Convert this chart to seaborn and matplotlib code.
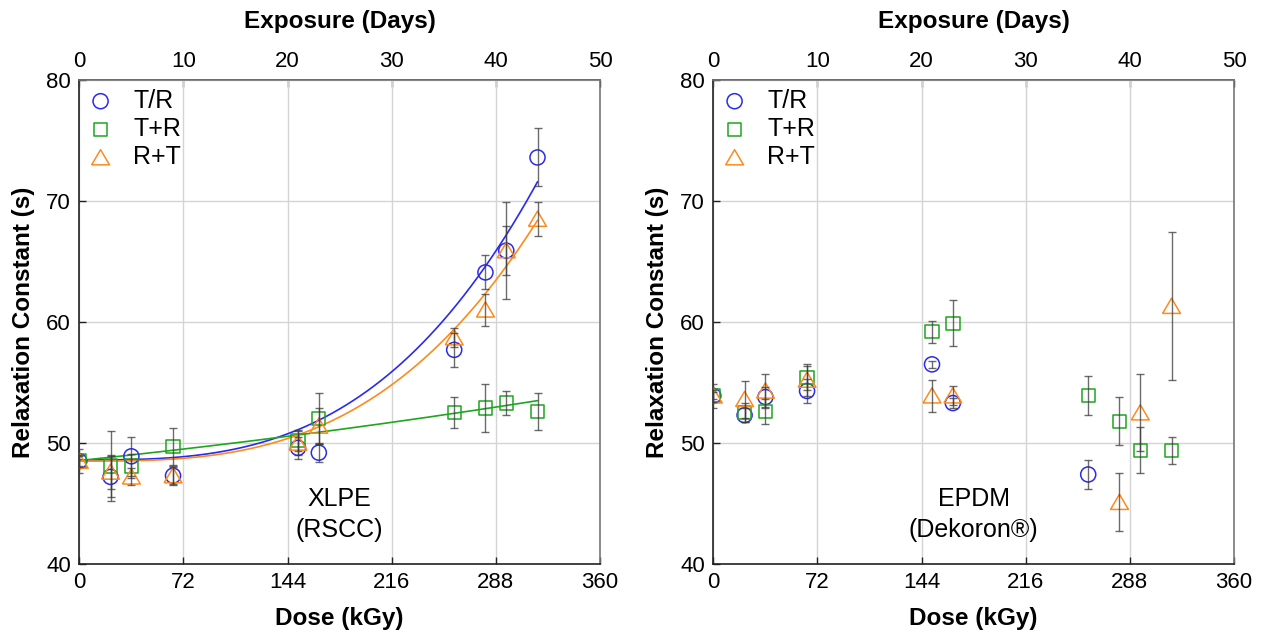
import numpy as np
import matplotlib
matplotlib.use("Agg")
import matplotlib.pyplot as plt
import seaborn as sns

# -------------------------
# Data
# -------------------------
dose = [0, 21.6, 36, 64.8, 151.2, 165.6, 259.2, 280.8, 295.2, 316.8]
day_ticks = [0, 10, 20, 30, 40, 50]
dose_ticks = [0, 72, 144, 216, 288, 360]
kgy_per_day = 7.2

# XLPE (RSCC)
xlpe_tr = [48.5, 47.2, 48.9, 47.3, 49.6, 49.2, 57.7, 64.1, 65.9, 73.6]
xlpe_tr_err = [0.4, 1.7, 1.6, 0.8, 0.9, 0.8, 1.4, 1.4, 4.0, 2.4]
xlpe_tpr = [48.5, 48.1, 48.1, 49.7, 50.2, 52.0, 52.5, 52.9, 53.3, 52.6]
xlpe_tpr_err = [0.5, 2.9, 1.0, 1.5, 0.9, 2.1, 1.3, 2.0, 1.0, 1.5]
xlpe_rpt = [48.5, 47.6, 47.2, 47.3, 50.0, 51.4, 58.7, 61.0, 65.9, 68.5]
xlpe_rpt_err = [1.0, 1.4, 0.7, 0.7, 1.0, 1.5, 0.8, 1.3, 2.0, 1.4]

# fitted trend lines for XLPE, polynomial coefficients (c0, c1, c2, c3) in dose
fit_tr = [48.6, 0.0, 0.0, 7.23e-7]
fit_tpr = [48.55, 0.01248, 9.93e-6, 0.0]
fit_rpt = [48.5, 0.0, 0.0, 6.26e-7]
fit_range = (0, 316.8)

# EPDM (Dekoron)
epdm_tr_dose = [0, 21.6, 36, 64.8, 151.2, 165.6, 259.2]
epdm_tr = [53.9, 52.3, 53.8, 54.3, 56.5, 53.3, 47.4]
epdm_tr_err = [0.3, 0.6, 0.8, 1.0, 0.3, 0.4, 1.2]
epdm_tpr_dose = dose
epdm_tpr = [53.9, 52.5, 52.6, 55.4, 59.2, 59.9, 53.9, 51.8, 49.4, 49.4]
epdm_tpr_err = [0.5, 0.8, 1.0, 1.0, 0.9, 1.9, 1.6, 2.0, 1.9, 1.1]
epdm_rpt_dose = [0, 21.6, 36, 64.8, 151.2, 165.6, 280.8, 295.2, 316.8]
epdm_rpt = [53.9, 53.6, 54.3, 55.2, 53.9, 53.9, 45.1, 52.5, 61.3]
epdm_rpt_err = [1.0, 1.5, 1.4, 1.3, 1.3, 0.8, 2.4, 3.2, 6.1]

BLUE, GREEN, ORANGE = "#2a2af0", "#1fa51f", "#ff8a1c"
ERR = "#3a3a3a"
TRI = [(-1, -0.8), (1, -0.8), (0, 0.9), (-1, -0.8)]

sns.set_theme(style="white")
plt.rcParams["font.family"] = ["Liberation Sans", "DejaVu Sans"]
plt.rcParams.update({"text.color": "black", "axes.labelcolor": "black",
                     "xtick.color": "black", "ytick.color": "black"})

fig = plt.figure(figsize=(12.65, 6.33), dpi=100)
ax1 = fig.add_axes([0.0627, 0.109, 0.4116, 0.7646])
ax2 = fig.add_axes([0.5639, 0.109, 0.4116, 0.7646])

panels = [
    (ax1, [(dose, xlpe_tr, xlpe_tr_err), (dose, xlpe_tpr, xlpe_tpr_err),
           (dose, xlpe_rpt, xlpe_rpt_err)], [fit_tr, fit_tpr, fit_rpt], "XLPE\n(RSCC)"),
    (ax2, [(epdm_tr_dose, epdm_tr, epdm_tr_err), (epdm_tpr_dose, epdm_tpr, epdm_tpr_err),
           (epdm_rpt_dose, epdm_rpt, epdm_rpt_err)], None, "EPDM\n(Dekoron®)"),
]
styles = [("T/R", BLUE, "o", 118), ("T+R", GREEN, "s", 92), ("R+T", ORANGE, TRI, 165)]

xs = np.linspace(fit_range[0], fit_range[1], 200)

for ax, series, fits, note in panels:
    for i, ((x, y, e), (name, col, mk, size)) in enumerate(zip(series, styles)):
        if fits is not None:
            ys = np.polynomial.polynomial.polyval(xs, fits[i])
            sns.lineplot(x=xs, y=ys, color=col, lw=1.2, ax=ax, zorder=2)
        sns.scatterplot(x=x, y=y, marker=mk, s=size, facecolor="none", edgecolor=col,
                        linewidth=1.1, label=name, ax=ax, zorder=3)
        ax.errorbar(x, y, yerr=e, fmt="none", ecolor=ERR, elinewidth=1, capsize=3,
                    capthick=1, alpha=0.75, zorder=4)

    ax.set_xlim(0, 360)
    ax.set_ylim(40, 80)
    ax.set_xticks(dose_ticks)
    ax.set_yticks([40, 50, 60, 70, 80])
    ax.grid(True, color="#d4d4d4", lw=1)
    ax.set_axisbelow(True)
    ax.tick_params(direction="in", length=5, width=1, colors="#222222", labelsize=16,
                   labelcolor="black", pad=6, bottom=True, left=True)
    for side, sp in ax.spines.items():
        sp.set_visible(True)
        sp.set_linewidth(1.2)
        sp.set_color("#222222" if side in ("left", "bottom") else "#777777")
    ax.set_xlabel("Dose (kGy)", fontsize=17.5, fontweight="bold", labelpad=10)
    ax.set_ylabel("Relaxation Constant (s)", fontsize=17.5, fontweight="bold", labelpad=8)

    top = ax.secondary_xaxis("top", functions=(lambda d: d / kgy_per_day,
                                               lambda t: t * kgy_per_day))
    top.set_xticks(day_ticks)
    top.tick_params(direction="in", length=5, width=1, colors="#222222", labelsize=16,
                    labelcolor="black", pad=6)
    top.set_xlabel("Exposure (Days)", fontsize=17.5, fontweight="bold", labelpad=16)

    ax.text(180, 44.1, note, ha="center", va="center", fontsize=18, linespacing=1.4)

    ax.legend(loc="upper left", frameon=False, fontsize=18, handlelength=1.0,
              handletextpad=0.8, labelspacing=0.17, borderaxespad=0.15, borderpad=0.2)

fig.savefig("out.png", dpi=100)
